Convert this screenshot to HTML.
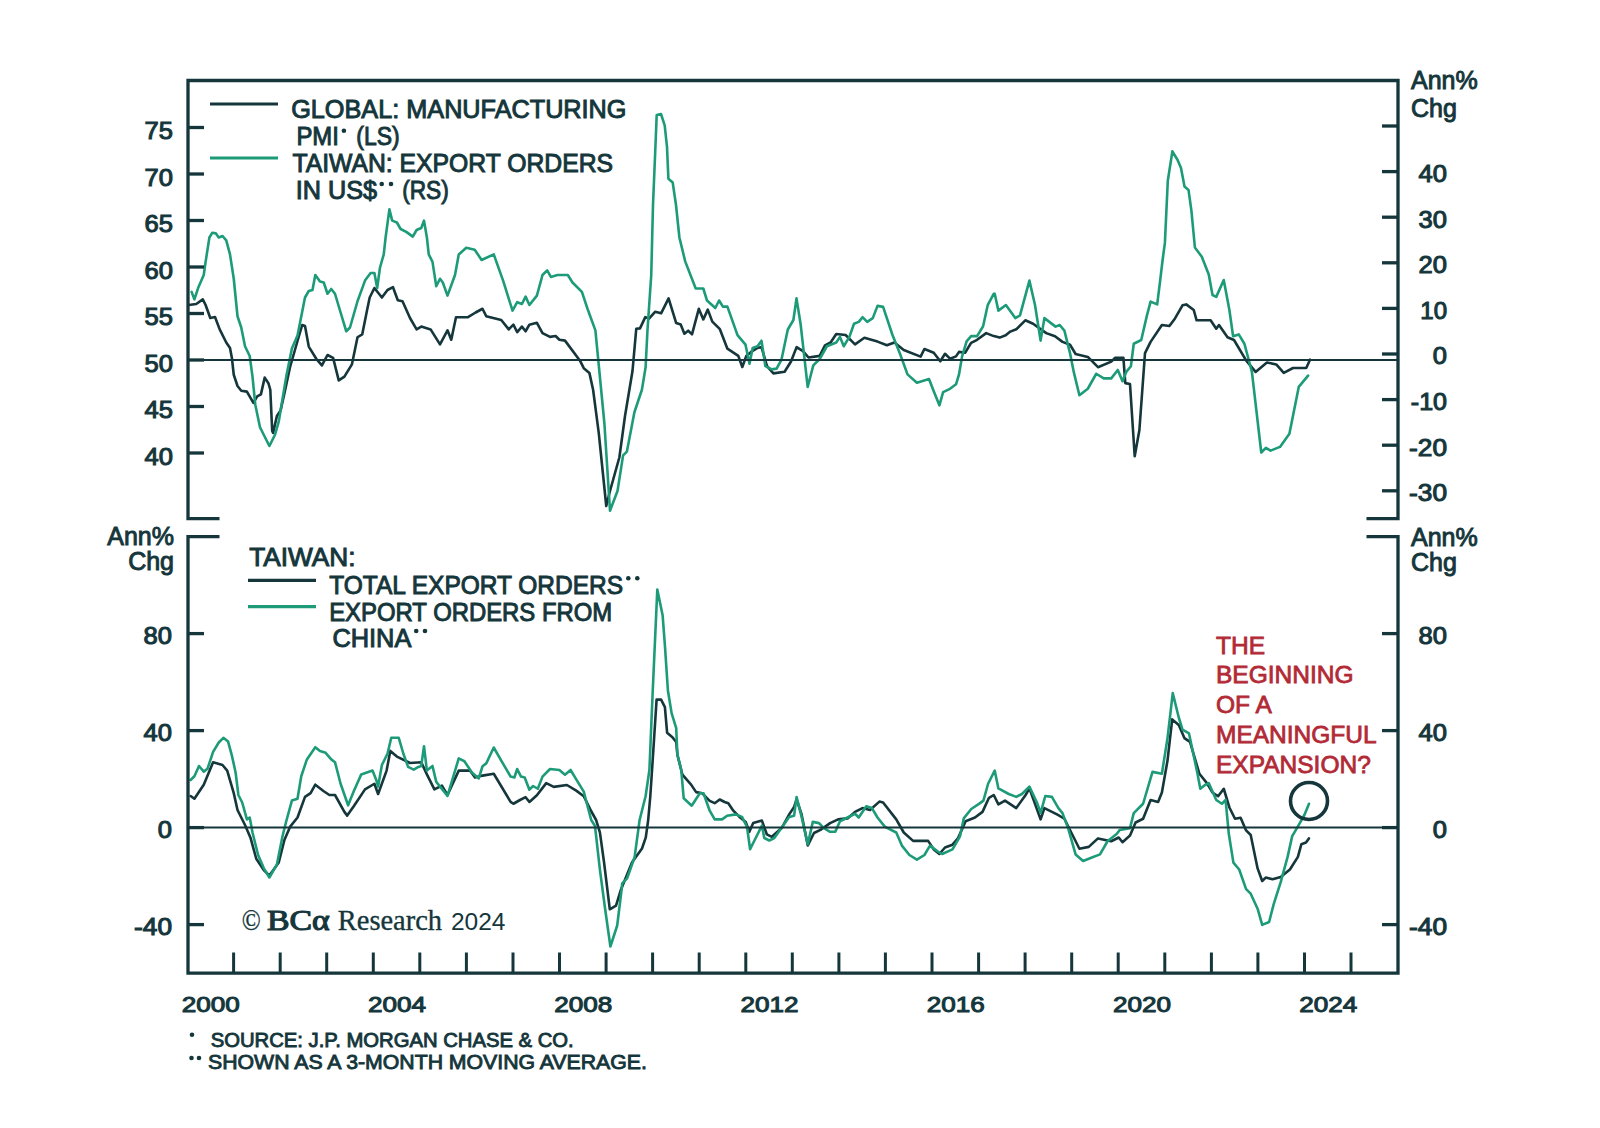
<!DOCTYPE html>
<html><head><meta charset="utf-8"><style>
html,body{margin:0;padding:0;background:#fff;width:1600px;height:1128px;overflow:hidden}
svg{display:block}
text{font-family:"Liberation Sans",sans-serif;fill:#15363b}
.ax{font-size:24px;font-weight:normal;stroke:#15363b;stroke-width:1.05px}
.ast{font-size:15px}
.fna{font-size:14px;font-weight:bold}
.cpb{font-family:"Liberation Serif",serif;font-size:28.5px;font-weight:normal;stroke:#15363b;stroke-width:1.1px}
.yr{font-size:21.5px;font-weight:normal;stroke:#15363b;stroke-width:1.0px}
.at{font-size:25px;font-weight:normal;stroke:#15363b;stroke-width:0.95px}
.lg{font-size:25px;font-weight:normal;stroke:#15363b;stroke-width:0.95px}
.an{font-size:24.5px;fill:#b22a36;stroke:#b22a36;stroke-width:0.8px}
.cp{font-family:"Liberation Serif",serif;font-size:28.5px;stroke:#15363b;stroke-width:0.35px}
.cpn{font-family:"Liberation Sans",sans-serif;font-size:23px}
.fn{font-size:20.5px;font-weight:normal;stroke:#15363b;stroke-width:0.9px}
</style></head><body>
<svg width="1600" height="1128" viewBox="0 0 1600 1128">
<polyline points="188.75,305 196.25,304 202.8,299.4 205.6,305 210.3,318 215,317 219.7,329.4 226.25,342.5 230,348 231.9,357.9 233.75,374.75 237.5,386 241.25,390.7 246.9,391.6 253.4,402.9 257.2,396.3 260.9,394.4 264.7,377.6 268.4,383.2 270.3,389.75 272.2,431 273.1,432.9 276.9,416 280.6,410.4 284.4,393.5 290,367.25 297.5,341 302.2,325 305,326 308.75,346.6 316.25,358.8 321.9,365.4 327.5,355 333.1,357.9 338.75,380.4 344.4,376.6 351.9,364.4 357.5,337.25 362.2,334.4 366.9,311 369.7,297.5 374.4,288 381.9,297.5 387.5,290 393,287.2 397.8,300.3 402.5,301.25 410,318 416.6,329.4 421.25,326.6 430.6,329.4 440,344.4 447.5,330.3 451.25,339.7 456,317.2 468,317.2 475.6,312.5 482.5,308.75 486.25,316.25 501.25,320 508.75,329.4 513.4,324.7 517.2,332.2 521.9,326.6 525.6,331.25 529.4,324.7 536.9,322.8 542.5,333.1 550,336.9 555.6,336 559.4,339.7 565,340.6 580,360.7 583.75,368.2 589.4,372.9 593.1,389.75 598.75,432.9 606.25,506 610,491 619.4,457.25 625,416 632.5,371 636.25,328.8 640,328.4 645.3,317.1 649,318.6 655.1,311.8 661.1,313.3 668.6,298.3 676.2,323.1 680.7,324.6 684.4,333.7 688.2,330.7 692,334.4 698.8,308.8 703.3,319.4 707.8,309.6 712.3,321.6 719.9,329.2 727.4,348.7 738.3,355.9 742.3,367 746.3,355.9 751.1,351.9 757.5,347.9 761.5,347.1 767,366.2 773.4,373.4 784.6,371.8 791,361.5 796.6,347.1 803,351.1 808.5,357.5 819.7,355.9 825,345.3 830.6,342.5 836.25,334 845.6,335 855,344.4 864.4,337.8 877.5,341.6 886.9,345.3 894.4,342.5 903.75,350 920.6,356.6 924.4,349 933.75,352.8 940.3,361.25 945,353.75 950,358.7 956,356.4 959,351.9 965.1,352.7 971.1,342.9 977.1,339.8 986.2,333.1 993.7,336.1 999.7,337.6 1005.7,335.3 1010.3,331.6 1016.3,329.3 1025.3,320.3 1033.1,323.75 1046.25,333.1 1055,336.25 1062.5,341.9 1070,344.7 1075.6,354 1087.8,356.9 1098,367.2 1111.25,361.6 1115,357.8 1123.4,357.8 1125.3,383.1 1130,384 1134.7,456.25 1139.4,430 1145,353.1 1150.6,341.9 1161.9,325 1169.4,326 1175,318.4 1182.5,305.3 1186.25,304.4 1193.75,310 1196.6,320.3 1210.6,320.3 1216.25,328.75 1219,325 1227.5,337.2 1234,340 1246.25,360.6 1255.6,371.9 1266.9,362.5 1276.25,364.4 1283.75,372.8 1293,368 1306.25,368 1310,359.7" fill="none" stroke="#15363b" stroke-width="2.6" stroke-linejoin="round" stroke-linecap="round"/>
<polyline points="191.6,291.9 194.4,299.4 198.1,288.1 203.75,275 205.6,261.9 209.4,237.5 212.2,232.8 215.9,233.4 218.75,237.5 222.5,236 226.25,240.3 230,254.4 233.75,278.75 237.5,316.25 241.25,327.5 245,346.25 249.7,356 252.5,376.6 255.3,404.75 260,427.25 263.75,434.75 269.4,446 275,434.75 278.75,421.6 282.5,399 286.25,376.6 291.9,348.5 297.5,335.4 301.25,316.6 305,297.5 308.75,291 312.5,290 315.3,275 320,281.6 323.75,282.5 327.5,293.75 331.25,289 335,293.75 340.6,312.5 346.25,331.25 350,327.5 357.5,301.25 365,280.6 370.6,273 374.4,273 377.2,288 380,267.5 383.75,254.4 385.6,237.5 389.4,209.4 392.2,220.6 396.9,222.5 400.6,229 406.25,231.9 412.8,236.6 416.6,230 421.25,228 424,220.6 426.9,237.5 428.75,254.4 432.5,261.9 436.25,286.25 440,278.75 442.8,282.5 447.5,295.6 455,275 458.75,254.4 466.25,247.8 474.7,249.7 481.6,260 493.75,254.4 503.1,280.6 512.5,310.6 517.2,302.2 521.9,304 525.6,296.6 529.4,305 536.9,295.6 542.5,275 547.2,270.3 550.9,276.9 557.5,275 567.8,275 572.5,282.5 581.9,291.9 587.5,308.75 595.4,330.4 604.4,423.5 610,510.7 617.5,491 623.1,455.4 626.9,451.6 634.4,412.25 641.9,389.75 645.6,367.25 647.5,329.75 651.25,275 653,205 655.8,137.5 656.7,115 661,114 664.7,125.3 667,146.9 668.4,178.75 672.7,182.5 676,205 679.4,237.5 685.2,261.4 695.7,288.5 703.3,288.5 707,300.5 715.3,308 719.1,300.5 722.9,306.6 727.4,306.6 737.5,335.1 745.5,344.7 749.5,363.8 752.7,347.9 757.5,346.3 761.5,340.7 765.4,366.2 771.8,369.4 776.6,368.6 781.4,359.9 787.8,329.5 793.4,320 796.5,298.4 800.6,324 803.75,351.9 807.7,387 813.3,365.4 819.7,359 826.9,346.25 836.25,342.5 840,336.9 843.75,346.25 849.4,336.9 854,323.75 858.75,321.9 862.5,317.2 867.2,321.9 872.8,318.1 877.5,305.9 883.1,306.9 892.5,335 900,353.75 907.5,374.4 916.9,382.8 929,379 933.75,391.25 939.4,405.3 943.1,392.2 950,388.8 956,384.3 959,374.5 962.1,356.4 966.6,341.4 971.1,336.1 977.1,336.1 983.1,326.3 987.7,305.2 993.7,293.9 994.7,293.75 998.4,310.6 1005.9,305 1015.3,318.1 1020,315.3 1029.4,280.6 1035,305 1040.6,340.6 1044.4,318.1 1055.6,326.6 1059.7,325 1064.4,330.6 1070,353.1 1073.75,371.9 1079.4,395.3 1087.8,388.75 1096.25,373.75 1103.75,378.4 1111.25,378.4 1117.8,370 1122.5,381.25 1126.25,371.9 1130.9,366.25 1133.75,343.75 1141.25,340 1146.9,315.6 1150.6,301.6 1157.2,304.4 1160,281.9 1162.6,260 1164.9,242.9 1167.8,180.7 1172.4,151.3 1177.6,160 1181,168 1184.5,186.5 1188.5,189.9 1191.4,210.6 1194.9,247.5 1201.8,256.7 1208.75,274.4 1212.5,295 1216.25,296.9 1223.75,280 1229.4,310 1233.1,336.25 1238.75,334.4 1244.4,343.75 1251.9,371.9 1261.25,452.5 1265.9,447.8 1270.6,450.6 1280,446.9 1289.4,433.75 1298.75,386.9 1308.1,375.6" fill="none" stroke="#1d9b78" stroke-width="2.6" stroke-linejoin="round" stroke-linecap="round"/>
<polyline points="190.6,796 194.4,798.75 203.75,784.7 213.1,762.2 222.5,765 227.2,770.6 233.75,793.1 237.5,810 245,825 250.6,838.1 256.25,858.75 263.75,870 269.4,875.6 278.75,862.5 284.4,840 290,826.9 297.5,817.5 305,796.9 310.6,793.1 315.3,784.7 323.75,791.25 329.4,795 335,795 344.4,811.9 347.2,815.6 353.75,806.25 365,789.4 374.4,783.75 378.1,794 386.6,770.6 390.3,750.9 396.9,756.6 410,763 421.25,762.2 426.9,774.4 434.4,789.4 441.9,785.6 447.5,795 458.75,770.6 470,770.6 475,777.5 482.5,775.6 493.75,773.75 510.6,801.9 513.4,803.75 520,800 525.6,797.2 529.4,801.9 536.9,795.3 546.25,783.1 553.75,786.9 566.9,785 576.25,790.6 583.75,796.25 591.25,811.25 596.1,820 599.9,832.4 604,862 609.8,909.3 616,905.6 621,889.5 632.1,862.2 642,848.5 645.8,837.4 648.2,820 650.3,796.25 652.7,760 656.6,699.6 661.1,699.6 664.9,707.1 667.1,732.7 672.4,737.2 676.2,742 677.4,754.8 682.4,774.7 691.1,784.6 696.1,792.1 702.3,793.3 709.7,800.8 714.7,803.2 719.7,799.5 724.6,802 728.3,803.2 733.3,810.7 739.5,816.9 745.7,821.9 749.4,831.8 753.2,823.1 761.9,820.6 766.8,834.3 771.8,836.8 781.7,828.1 789.2,814.4 794.1,807 796.6,799.5 801.6,814.4 807.8,845.4 814,833 821.4,829.3 830.1,823.1 838.1,819.4 847.5,818.4 855,811.9 862.5,808.1 870,810 879.4,801.6 883.1,802.5 896.25,819.4 903.75,832.5 913.1,840.9 928.1,840.9 933.75,849.4 939.4,854 945,847.5 952.5,844.7 958.1,838.1 965.6,821.25 975,817.5 982.5,811.9 989,797.8 993.75,795 998.4,804.4 1005,800.6 1016.25,808.1 1025.6,795 1029.4,788.4 1040.6,819.4 1044.4,808.1 1057.5,814.7 1064.4,818.75 1070,830 1079.4,848.75 1088.75,846.9 1098,838.4 1111.25,841.25 1118.75,837.5 1122.5,842.2 1130,835.6 1135.6,822.5 1143.1,818.75 1150.6,800 1158.1,801.9 1161.9,792.5 1167.5,760.6 1172.2,719.4 1178.75,725 1184.4,738.1 1190,741.9 1199.4,773.75 1206.9,783.1 1212.5,792.5 1218.1,796.25 1223.75,788.75 1229.4,807.5 1235,818.75 1240.6,817.8 1246.1,830.4 1250.7,835 1257.6,868.4 1262.2,881 1265.7,877.6 1272.6,879.3 1280.7,877 1289.9,869.5 1297.9,856.9 1301.4,844.2 1306,842.5 1308.9,838.4" fill="none" stroke="#15363b" stroke-width="2.6" stroke-linejoin="round" stroke-linecap="round"/>
<polyline points="190.6,780 194.4,776.25 199,766 203.75,771.6 207.5,768.75 213.1,751.9 218.75,742.5 223.4,737.8 228.1,741.6 231.9,755.6 235.6,772.5 238.4,795 242.2,802.5 246.9,819.4 249.7,817.5 252.5,832.5 258.1,855 263.75,868.1 269.4,877.5 276.9,864.4 282.5,836.25 286.25,821.25 291.9,800.6 297.5,798.75 301.25,776.25 306.9,759.4 315.3,747.2 320,751 325.6,752.8 331.25,759.4 335,762.2 340.6,783.75 348.1,805.3 353.75,791.25 361.25,774.4 372.5,770.6 376.25,780 378.1,786.6 381.9,765 387.5,753.75 391.25,737.8 398.75,737.8 403.4,753.75 408.1,766.9 413.75,769.7 418.4,766.9 421.25,766 424,746.25 426.9,770.6 432.5,766 436.25,781.9 447.5,795.9 458.75,758.4 464.4,761.25 471.9,772.5 478.75,778.4 482.5,766.25 486.25,763.4 493.75,747.5 501.25,760.6 510.6,776.6 514.4,777.5 517.2,769 521,776.6 524.7,777.5 529.4,789.7 533.1,786 537.8,788.75 542.5,776.6 550,769 559.4,770 565,774.7 570.6,770 576.25,779.4 583.75,791.6 591.2,820 595,826 599.9,869.6 605,908 610.4,946.5 617.2,925.5 621.6,889.5 622.2,883.3 627.1,878.3 634.6,857.2 639.6,820 645.6,796.25 649.4,770 652.7,691.75 657.3,589.6 662.6,615.2 664.9,645.3 667.9,690.5 671.6,713.1 676.2,728.2 677.4,754.8 681.2,769.7 683.7,798.3 691.7,805.7 699.8,793.3 703.5,793.3 709.7,810.7 714.7,819.4 722.1,819.4 727.1,815.7 735.8,814.4 742,816.9 747,826.8 750.1,849.2 755.7,838 761.9,825.6 764.3,838 769.3,840.5 774.3,838 780.5,829.3 789.2,816.9 794.1,815.7 796.6,797 801.6,816.9 807.8,844.2 812.8,821.9 819,823.1 823.9,828.1 830.1,831.8 835.3,831.6 840,821.25 847.5,817.5 855,813.75 858.75,817.5 866.25,806.25 871.9,808.1 877.5,817.5 885,826.9 896.25,832.5 901.9,845.6 909.4,855 916.9,859.7 924.4,855 930,845.6 937.5,851.25 942.2,854 952.5,849.4 960,836.25 963.75,818.4 971.25,809 979.7,803.4 983.4,800.6 988.1,783.75 994.7,770.6 998.4,788.4 1008.75,794 1016.25,796.9 1021.9,794 1029.4,786.6 1036.9,802.5 1040.6,812.8 1045.3,796 1051.9,796.9 1058.4,808.1 1062.5,813.1 1068.1,828.1 1075.6,854.4 1083.1,861 1092.5,857.2 1100,854.4 1107.5,841.25 1116.9,833.75 1119.7,830 1130,828.1 1133.75,813.1 1143.1,803.75 1152.5,771.9 1161.9,773.75 1167.5,738.1 1172.75,693.1 1178.75,717.5 1182.5,729.7 1189,733.4 1197.5,773.75 1200.3,788.75 1205,785 1208.75,783.1 1216.25,800 1221.9,803.75 1225.6,800 1228.8,833.8 1233.4,862.6 1239.2,869.5 1246.1,889.1 1250.7,893.7 1257.6,908.7 1262.2,924.9 1269.1,922 1273.7,904.1 1280.7,882.2 1287.6,856.9 1292.2,836.1 1295.6,830.4 1300.2,822.3 1304.4,815 1309,803.75" fill="none" stroke="#1d9b78" stroke-width="2.6" stroke-linejoin="round" stroke-linecap="round"/>

<path d="M219.5,518.7 H188 V80.5 H1398 V518.7 H1366.5" fill="none" stroke="#15363b" stroke-width="3.3"/>
<path d="M219.5,536.7 H188 V973.2 H1398 V536.7 H1366.5" fill="none" stroke="#15363b" stroke-width="3.3"/>
<line x1="188" y1="127.5" x2="204" y2="127.5" stroke="#15363b" stroke-width="3.3"/>
<text x="173" y="139.3" class="ax" text-anchor="end" textLength="28.4" lengthAdjust="spacingAndGlyphs">75</text>
<line x1="188" y1="174.0" x2="204" y2="174.0" stroke="#15363b" stroke-width="3.3"/>
<text x="173" y="185.8" class="ax" text-anchor="end" textLength="28.4" lengthAdjust="spacingAndGlyphs">70</text>
<line x1="188" y1="220.5" x2="204" y2="220.5" stroke="#15363b" stroke-width="3.3"/>
<text x="173" y="232.3" class="ax" text-anchor="end" textLength="28.4" lengthAdjust="spacingAndGlyphs">65</text>
<line x1="188" y1="267.0" x2="204" y2="267.0" stroke="#15363b" stroke-width="3.3"/>
<text x="173" y="278.8" class="ax" text-anchor="end" textLength="28.4" lengthAdjust="spacingAndGlyphs">60</text>
<line x1="188" y1="313.5" x2="204" y2="313.5" stroke="#15363b" stroke-width="3.3"/>
<text x="173" y="325.3" class="ax" text-anchor="end" textLength="28.4" lengthAdjust="spacingAndGlyphs">55</text>
<line x1="188" y1="360.0" x2="204" y2="360.0" stroke="#15363b" stroke-width="3.3"/>
<text x="173" y="371.8" class="ax" text-anchor="end" textLength="28.4" lengthAdjust="spacingAndGlyphs">50</text>
<line x1="188" y1="406.5" x2="204" y2="406.5" stroke="#15363b" stroke-width="3.3"/>
<text x="173" y="418.3" class="ax" text-anchor="end" textLength="28.4" lengthAdjust="spacingAndGlyphs">45</text>
<line x1="188" y1="453.0" x2="204" y2="453.0" stroke="#15363b" stroke-width="3.3"/>
<text x="173" y="464.8" class="ax" text-anchor="end" textLength="28.4" lengthAdjust="spacingAndGlyphs">40</text>
<line x1="1382" y1="126.0" x2="1398" y2="126.0" stroke="#15363b" stroke-width="3.3"/>
<line x1="1382" y1="171.6" x2="1398" y2="171.6" stroke="#15363b" stroke-width="3.3"/>
<text x="1447" y="181.9" class="ax" text-anchor="end" textLength="28.4" lengthAdjust="spacingAndGlyphs">40</text>
<line x1="1382" y1="217.2" x2="1398" y2="217.2" stroke="#15363b" stroke-width="3.3"/>
<text x="1447" y="227.5" class="ax" text-anchor="end" textLength="28.4" lengthAdjust="spacingAndGlyphs">30</text>
<line x1="1382" y1="262.8" x2="1398" y2="262.8" stroke="#15363b" stroke-width="3.3"/>
<text x="1447" y="273.1" class="ax" text-anchor="end" textLength="28.4" lengthAdjust="spacingAndGlyphs">20</text>
<line x1="1382" y1="308.4" x2="1398" y2="308.4" stroke="#15363b" stroke-width="3.3"/>
<text x="1447" y="318.7" class="ax" text-anchor="end" textLength="26.7" lengthAdjust="spacingAndGlyphs">10</text>
<line x1="1382" y1="354.0" x2="1398" y2="354.0" stroke="#15363b" stroke-width="3.3"/>
<text x="1447" y="364.3" class="ax" text-anchor="end" textLength="14.2" lengthAdjust="spacingAndGlyphs">0</text>
<line x1="1382" y1="399.6" x2="1398" y2="399.6" stroke="#15363b" stroke-width="3.3"/>
<text x="1447" y="409.90000000000003" class="ax" text-anchor="end" textLength="36.2" lengthAdjust="spacingAndGlyphs">-10</text>
<line x1="1382" y1="445.2" x2="1398" y2="445.2" stroke="#15363b" stroke-width="3.3"/>
<text x="1447" y="455.5" class="ax" text-anchor="end" textLength="37.9" lengthAdjust="spacingAndGlyphs">-20</text>
<line x1="1382" y1="490.8" x2="1398" y2="490.8" stroke="#15363b" stroke-width="3.3"/>
<text x="1447" y="501.1" class="ax" text-anchor="end" textLength="37.9" lengthAdjust="spacingAndGlyphs">-30</text>
<line x1="188" y1="360" x2="1398" y2="360" stroke="#15363b" stroke-width="2"/>
<line x1="188" y1="633.6" x2="204" y2="633.6" stroke="#15363b" stroke-width="3.3"/>
<line x1="1382" y1="633.6" x2="1398" y2="633.6" stroke="#15363b" stroke-width="3.3"/>
<text x="172" y="643.9" class="ax" text-anchor="end" textLength="28.4" lengthAdjust="spacingAndGlyphs">80</text>
<text x="1447" y="643.9" class="ax" text-anchor="end" textLength="28.4" lengthAdjust="spacingAndGlyphs">80</text>
<line x1="188" y1="730.6" x2="204" y2="730.6" stroke="#15363b" stroke-width="3.3"/>
<line x1="1382" y1="730.6" x2="1398" y2="730.6" stroke="#15363b" stroke-width="3.3"/>
<text x="172" y="740.9" class="ax" text-anchor="end" textLength="28.4" lengthAdjust="spacingAndGlyphs">40</text>
<text x="1447" y="740.9" class="ax" text-anchor="end" textLength="28.4" lengthAdjust="spacingAndGlyphs">40</text>
<line x1="188" y1="827.6" x2="204" y2="827.6" stroke="#15363b" stroke-width="3.3"/>
<line x1="1382" y1="827.6" x2="1398" y2="827.6" stroke="#15363b" stroke-width="3.3"/>
<text x="172" y="837.9" class="ax" text-anchor="end" textLength="14.2" lengthAdjust="spacingAndGlyphs">0</text>
<text x="1447" y="837.9" class="ax" text-anchor="end" textLength="14.2" lengthAdjust="spacingAndGlyphs">0</text>
<line x1="188" y1="924.6" x2="204" y2="924.6" stroke="#15363b" stroke-width="3.3"/>
<line x1="1382" y1="924.6" x2="1398" y2="924.6" stroke="#15363b" stroke-width="3.3"/>
<text x="172" y="934.9" class="ax" text-anchor="end" textLength="37.9" lengthAdjust="spacingAndGlyphs">-40</text>
<text x="1447" y="934.9" class="ax" text-anchor="end" textLength="37.9" lengthAdjust="spacingAndGlyphs">-40</text>
<line x1="188" y1="827.5" x2="1398" y2="827.5" stroke="#15363b" stroke-width="2"/>
<line x1="233.6" y1="952.5" x2="233.6" y2="973" stroke="#15363b" stroke-width="3"/>
<line x1="280.2" y1="952.5" x2="280.2" y2="973" stroke="#15363b" stroke-width="3"/>
<line x1="326.7" y1="952.5" x2="326.7" y2="973" stroke="#15363b" stroke-width="3"/>
<line x1="373.3" y1="952.5" x2="373.3" y2="973" stroke="#15363b" stroke-width="3"/>
<line x1="419.8" y1="952.5" x2="419.8" y2="973" stroke="#15363b" stroke-width="3"/>
<line x1="466.4" y1="952.5" x2="466.4" y2="973" stroke="#15363b" stroke-width="3"/>
<line x1="513.0" y1="952.5" x2="513.0" y2="973" stroke="#15363b" stroke-width="3"/>
<line x1="559.5" y1="952.5" x2="559.5" y2="973" stroke="#15363b" stroke-width="3"/>
<line x1="606.1" y1="952.5" x2="606.1" y2="973" stroke="#15363b" stroke-width="3"/>
<line x1="652.6" y1="952.5" x2="652.6" y2="973" stroke="#15363b" stroke-width="3"/>
<line x1="699.2" y1="952.5" x2="699.2" y2="973" stroke="#15363b" stroke-width="3"/>
<line x1="745.8" y1="952.5" x2="745.8" y2="973" stroke="#15363b" stroke-width="3"/>
<line x1="792.3" y1="952.5" x2="792.3" y2="973" stroke="#15363b" stroke-width="3"/>
<line x1="838.9" y1="952.5" x2="838.9" y2="973" stroke="#15363b" stroke-width="3"/>
<line x1="885.4" y1="952.5" x2="885.4" y2="973" stroke="#15363b" stroke-width="3"/>
<line x1="932.0" y1="952.5" x2="932.0" y2="973" stroke="#15363b" stroke-width="3"/>
<line x1="978.6" y1="952.5" x2="978.6" y2="973" stroke="#15363b" stroke-width="3"/>
<line x1="1025.1" y1="952.5" x2="1025.1" y2="973" stroke="#15363b" stroke-width="3"/>
<line x1="1071.7" y1="952.5" x2="1071.7" y2="973" stroke="#15363b" stroke-width="3"/>
<line x1="1118.2" y1="952.5" x2="1118.2" y2="973" stroke="#15363b" stroke-width="3"/>
<line x1="1164.8" y1="952.5" x2="1164.8" y2="973" stroke="#15363b" stroke-width="3"/>
<line x1="1211.4" y1="952.5" x2="1211.4" y2="973" stroke="#15363b" stroke-width="3"/>
<line x1="1257.9" y1="952.5" x2="1257.9" y2="973" stroke="#15363b" stroke-width="3"/>
<line x1="1304.5" y1="952.5" x2="1304.5" y2="973" stroke="#15363b" stroke-width="3"/>
<line x1="1351.0" y1="952.5" x2="1351.0" y2="973" stroke="#15363b" stroke-width="3"/>
<text x="181.8" y="1011.5" class="yr" textLength="58" lengthAdjust="spacingAndGlyphs">2000</text>
<text x="368.0" y="1011.5" class="yr" textLength="58" lengthAdjust="spacingAndGlyphs">2004</text>
<text x="554.3" y="1011.5" class="yr" textLength="58" lengthAdjust="spacingAndGlyphs">2008</text>
<text x="740.5" y="1011.5" class="yr" textLength="58" lengthAdjust="spacingAndGlyphs">2012</text>
<text x="926.7" y="1011.5" class="yr" textLength="58" lengthAdjust="spacingAndGlyphs">2016</text>
<text x="1113.0" y="1011.5" class="yr" textLength="58" lengthAdjust="spacingAndGlyphs">2020</text>
<text x="1299.2" y="1011.5" class="yr" textLength="58" lengthAdjust="spacingAndGlyphs">2024</text>
<text x="1411" y="89" class="at">Ann%</text><text x="1411" y="117" class="at">Chg</text>
<text x="174" y="545" class="at" text-anchor="end">Ann%</text><text x="174" y="570" class="at" text-anchor="end">Chg</text>
<text x="1411" y="545.6" class="at">Ann%</text><text x="1411" y="570.6" class="at">Chg</text>
<line x1="210" y1="104" x2="278" y2="104" stroke="#15363b" stroke-width="3.2"/>
<line x1="210" y1="158" x2="278" y2="158" stroke="#1d9b78" stroke-width="3.2"/>
<text x="291.2" y="117.5" class="lg" textLength="335.3" lengthAdjust="spacingAndGlyphs">GLOBAL: MANUFACTURING</text>
<text x="296.4" y="144.8" class="lg" textLength="42.4" lengthAdjust="spacingAndGlyphs">PMI</text>
<text x="356.3" y="144.8" class="lg" textLength="43.3" lengthAdjust="spacingAndGlyphs">(LS)</text>
<text x="292.4" y="171.8" class="lg" textLength="320.6" lengthAdjust="spacingAndGlyphs">TAIWAN: EXPORT ORDERS</text>
<text x="295.7" y="198.8" class="lg" textLength="81.3" lengthAdjust="spacingAndGlyphs">IN US$</text>
<text x="402.2" y="198.8" class="lg" textLength="46.6" lengthAdjust="spacingAndGlyphs">(RS)</text>
<text x="249.2" y="566.2" class="lg" textLength="106.3" lengthAdjust="spacingAndGlyphs">TAIWAN:</text>
<line x1="248" y1="580.4" x2="316" y2="580.4" stroke="#15363b" stroke-width="3.2"/>
<line x1="248" y1="606.6" x2="316" y2="606.6" stroke="#1d9b78" stroke-width="3.2"/>
<text x="329.2" y="594" class="lg" textLength="293.9" lengthAdjust="spacingAndGlyphs">TOTAL EXPORT ORDERS</text>
<text x="329.2" y="621" class="lg" textLength="283" lengthAdjust="spacingAndGlyphs">EXPORT ORDERS FROM</text>
<text x="332.4" y="646.6" class="lg" textLength="79" lengthAdjust="spacingAndGlyphs">CHINA</text>
<circle cx="343.9" cy="130.7" r="2.3" fill="#15363b"/>
<circle cx="381.75" cy="184" r="2.3" fill="#15363b"/>
<circle cx="391" cy="184" r="2.3" fill="#15363b"/>
<circle cx="628.3" cy="578.2" r="2.3" fill="#15363b"/>
<circle cx="637.3" cy="578.2" r="2.3" fill="#15363b"/>
<circle cx="416.2" cy="631" r="2.3" fill="#15363b"/>
<circle cx="425" cy="631" r="2.3" fill="#15363b"/>
<circle cx="192" cy="1034.8" r="2.3" fill="#15363b"/>
<circle cx="191.5" cy="1058" r="2.3" fill="#15363b"/>
<circle cx="199" cy="1058" r="2.3" fill="#15363b"/>
<text x="1216" y="653.5" class="an">THE</text>
<text x="1216" y="683.3" class="an">BEGINNING</text>
<text x="1216" y="713.1" class="an">OF A</text>
<text x="1216" y="742.9" class="an">MEANINGFUL</text>
<text x="1216" y="772.7" class="an">EXPANSION?</text>
<circle cx="1309" cy="801" r="18.5" fill="none" stroke="#15363b" stroke-width="3.6"/>
<text x="241.8" y="929.8" class="cp" textLength="19" lengthAdjust="spacingAndGlyphs">©</text>
<text x="267" y="929.8" class="cpb" textLength="62.7" lengthAdjust="spacingAndGlyphs">BC&#945;</text>
<text x="337.8" y="929.8" class="cp" textLength="104.2" lengthAdjust="spacingAndGlyphs">Research</text>
<text x="451" y="929.8" class="cpn" textLength="54.5" lengthAdjust="spacingAndGlyphs">2024</text>
<text x="210.7" y="1046.7" class="fn" textLength="363" lengthAdjust="spacingAndGlyphs">SOURCE: J.P. MORGAN CHASE &amp; CO.</text>
<text x="208.1" y="1069" class="fn" textLength="438.7" lengthAdjust="spacingAndGlyphs">SHOWN AS A 3-MONTH MOVING AVERAGE.</text>
</svg>
</body></html>
